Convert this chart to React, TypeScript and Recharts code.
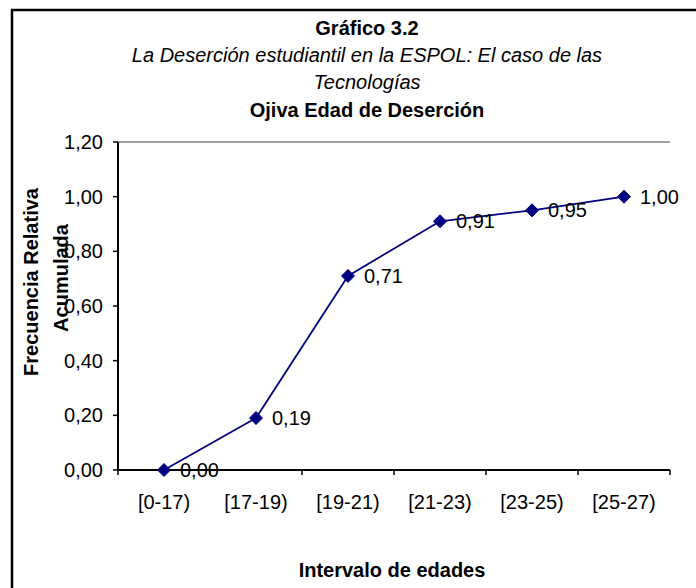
import React from 'react';
import { LineChart, Line, XAxis, YAxis, ReferenceLine, LabelList } from 'recharts';

const categories = ['[0-17)', '[17-19)', '[19-21)', '[21-23)', '[23-25)', '[25-27)'];
const cumulativeFreq = [0.0, 0.19, 0.71, 0.91, 0.95, 1.0];
const yTicks = [0, 0.2, 0.4, 0.6, 0.8, 1.0, 1.2];

const titleLines = ['Gráfico 3.2', 'La Deserción estudiantil en la ESPOL: El caso de las', 'Tecnologías', 'Ojiva Edad de Deserción'];
const yTitleLines = ['Frecuencia Relativa', 'Acumulada'];
const xTitle = 'Intervalo de edades';

const data = categories.map((c, i) => ({ cat: c, v: cumulativeFreq[i] }));

const FONT = '"Liberation Sans", Arial, sans-serif';
const NAVY = '#000080';
const HALF_STEP = 46;

const fmt = (v: any) => Number(v).toFixed(2).replace('.', ',');

const Diamond = (props: any) => {
  const { cx, cy } = props;
  if (cx == null || cy == null) return null;
  const r = 6.5;
  return (
    <polygon
      points={`${cx},${cy - r} ${cx + r},${cy} ${cx},${cy + r} ${cx - r},${cy}`}
      fill={NAVY}
      stroke={NAVY}
      strokeWidth={1}
    />
  );
};

const XTick = (props: any) => {
  const { x, y, payload, index, visibleTicksCount } = props;
  const last = index === (visibleTicksCount ?? categories.length) - 1;
  return (
    <g>
      <line x1={x - HALF_STEP} y1={y} x2={x - HALF_STEP} y2={y + 5} stroke="#000" strokeWidth={1.5} />
      {last && <line x1={x + HALF_STEP} y1={y} x2={x + HALF_STEP} y2={y + 5} stroke="#000" strokeWidth={1.5} />}
      <text x={x} y={y + 39} textAnchor="middle" fontSize={20} fill="#000" fontFamily={FONT}>
        {payload.value}
      </text>
    </g>
  );
};

export default function App() {
  return (
    <div style={{ position: 'absolute', left: 0, top: 0, width: 696, height: 588, background: '#fff' }}>
      <LineChart
        width={696}
        height={588}
        data={data}
        margin={{ top: 142, right: 26, bottom: 78, left: 0 }}
        style={{ fontFamily: FONT }}
      >
        <XAxis
          dataKey="cat"
          height={40}
          padding={{ left: HALF_STEP, right: HALF_STEP }}
          tickSize={0}
          tickMargin={0}
          tickLine={false}
          axisLine={{ stroke: '#000', strokeWidth: 2 }}
          tick={<XTick />}
          interval={0}
        />
        <YAxis
          width={118}
          domain={[0, 1.2]}
          ticks={yTicks}
          tickFormatter={fmt}
          tickSize={5}
          tickMargin={10}
          tickLine={{ stroke: '#000', strokeWidth: 1.5 }}
          axisLine={{ stroke: '#000', strokeWidth: 2 }}
          tick={{ fontSize: 20, fill: '#000', fontFamily: FONT }}
          interval={0}
        />
        <YAxis
          yAxisId="right"
          orientation="right"
          width={0}
          domain={[0, 1.2]}
          tick={false}
          tickLine={false}
          axisLine={{ stroke: '#808080', strokeWidth: 1.5 }}
        />
        <ReferenceLine y={1.2} stroke="#808080" strokeWidth={1.5} />
        <Line
          type="linear"
          dataKey="v"
          stroke={NAVY}
          strokeWidth={1.75}
          dot={<Diamond />}
          activeDot={false}
          isAnimationActive={false}
        >
          <LabelList dataKey="v" position="right" offset={16} formatter={fmt} fontSize={20} fill="#000" fontFamily={FONT} />
        </Line>
      </LineChart>
      <svg
        width={696}
        height={588}
        style={{ position: 'absolute', left: 0, top: 0, pointerEvents: 'none' }}
        fontFamily={FONT}
      >
        <rect x={12} y={10} width={720} height={620} fill="none" stroke="#000" strokeWidth={2.5} />
        <text x={367} y={35} textAnchor="middle" fontSize={20} fontWeight="bold" fill="#000">{titleLines[0]}</text>
        <text x={367} y={62} textAnchor="middle" fontSize={20} fontStyle="italic" fill="#000">{titleLines[1]}</text>
        <text x={367} y={89} textAnchor="middle" fontSize={20} fontStyle="italic" fill="#000">{titleLines[2]}</text>
        <text x={367} y={117} textAnchor="middle" fontSize={20} fontWeight="bold" fill="#000">{titleLines[3]}</text>
        <text x={38} y={282} transform="rotate(-90, 38, 282)" textAnchor="middle" fontSize={20} fontWeight="bold" fill="#000">{yTitleLines[0]}</text>
        <text x={68} y={278} transform="rotate(-90, 68, 278)" textAnchor="middle" fontSize={20} fontWeight="bold" fill="#000">{yTitleLines[1]}</text>
        <text x={392} y={577} textAnchor="middle" fontSize={20} fontWeight="bold" fill="#000">{xTitle}</text>
      </svg>
    </div>
  );
}
